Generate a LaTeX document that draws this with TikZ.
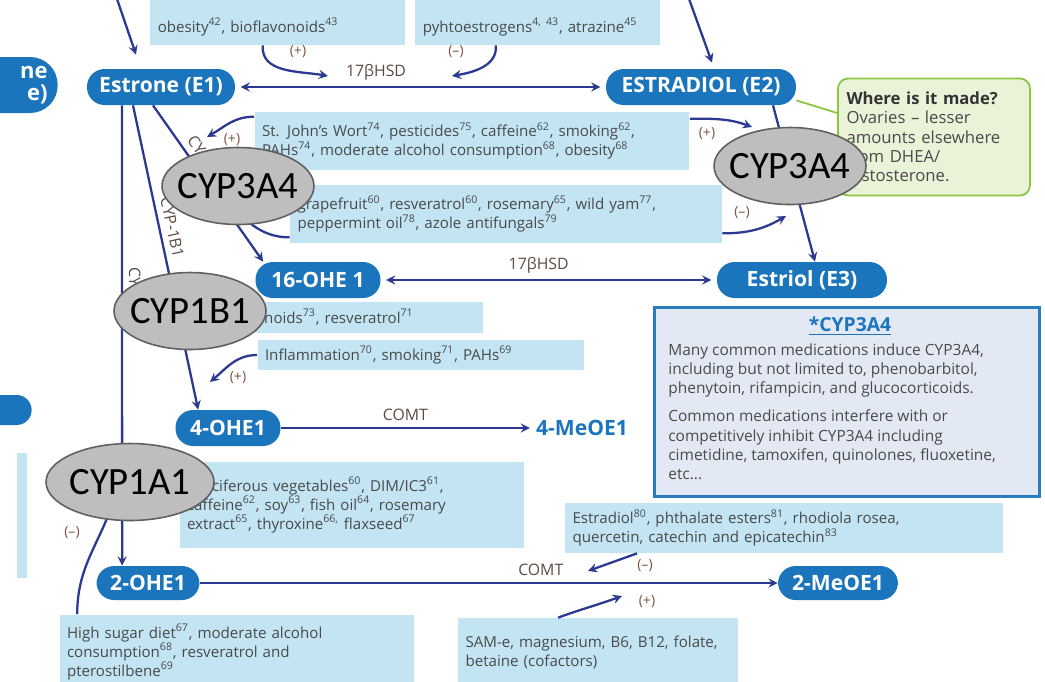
\documentclass[tikz,border=0pt]{standalone}
\usepackage{fontspec}
\setmainfont{Open Sans}
\newfontfamily\cypfont{Carlito}
\usetikzlibrary{shapes.geometric}
\definecolor{estblue}{HTML}{1B75BC}
\definecolor{flownavy}{HTML}{2B3990}
\definecolor{boxblue}{HTML}{C2E4F3}
\definecolor{txtgray}{HTML}{4A4A4A}
\definecolor{signbrown}{HTML}{7B5340}
\definecolor{enzgray}{HTML}{5B4A42}
\definecolor{cypgray}{HTML}{BEBEBE}
\definecolor{cypedge}{HTML}{5F5F5F}
\definecolor{wherefill}{HTML}{E9F3D8}
\definecolor{whereedge}{HTML}{8CC63F}
\definecolor{notefill}{HTML}{E3E9F4}
\definecolor{noteedge}{HTML}{2B7BBF}
\newcommand{\rf}[1]{\textsuperscript{#1}}
\tikzset{
  pill/.style={fill=estblue, text=white, rounded corners=0.35cm, minimum height=0.72cm, inner sep=0pt, font=\fontsize{12}{14}\selectfont\bfseries},
  info/.style={fill=boxblue, text=txtgray, align=left, inner xsep=0.15cm, inner ysep=0pt, font=\fontsize{8.6}{10.8}\selectfont},
  flow/.style={draw=flownavy, line width=1.3pt},
  sign/.style={text=signbrown, font=\fontsize{8}{9}\selectfont},
  enz/.style={text=enzgray, font=\fontsize{9}{10}\selectfont},
  cyp/.style={ellipse, draw=cypedge, fill=cypgray, line width=0.9pt, inner xsep=-0.4cm, inner ysep=0pt, minimum width=3.04cm, minimum height=1.54cm, font=\cypfont\fontsize{22}{26}\selectfont}
}
\begin{document}
\begin{tikzpicture}[x=0.02cm, y=-0.02cm]
\useasboundingbox (0,0) rectangle (1045,681);
\clip (0,0) rectangle (1045,681);

\node[info, text width=4.8cm, text height=1cm, text depth=0.16cm, inner ysep=0.1cm, anchor=base west] (obes) at (150,32) {obesity\rf{42}, bioflavonoids\rf{43}};
\node[info, text width=4.6cm, text height=1cm, text depth=0.16cm, inner ysep=0.1cm, anchor=base west] (phyto) at (415,32) {pyhtoestrogens\rf{4, 43}, atrazine\rf{45}};

\node[pill, anchor=east, text width=2.5cm, align=right, minimum height=1.12cm, rounded corners=0.55cm, inner xsep=0.2cm, font=\fontsize{12.5}{12.5}\selectfont\bfseries] (andro) at (58,85) {ne\\e)};
\node[pill, anchor=east, minimum width=2cm, minimum height=0.6cm, rounded corners=0.3cm] (leftpill) at (32,410) {};
\node[fill=boxblue, minimum width=0.2cm, minimum height=2.5cm, inner sep=0pt] (leftstrip) at (22,515) {};

\node[pill, minimum width=2.96cm] (e1) at (161,87) {Estrone (E1)};
\node[pill, minimum width=3.8cm] (e2) at (701,87) {ESTRADIOL (E2)};
\node[pill, minimum width=2.5cm] (ohe16) at (318,280) {16-OHE 1};
\node[pill, minimum width=3.4cm] (e3) at (802,280) {Estriol (E3)};
\node[pill, minimum width=2.1cm] (oh4) at (228,428) {4-OHE1};
\node[pill, minimum width=2.06cm, minimum height=0.68cm] (oh2) at (148,583) {2-OHE1};
\node[pill, minimum width=2.4cm, minimum height=0.68cm] (meo2) at (838,583) {2-MeOE1};
\node[text=estblue, font=\fontsize{12}{14}\selectfont\bfseries] (meo4) at (582,428) {4-MeOE1};

\node[info, text width=8.4cm, minimum height=1.16cm] (smk) at (472,141) {St. John’s Wort\rf{74}, pesticides\rf{75}, caffeine\rf{62}, smoking\rf{62},\\ PAHs\rf{74}, moderate alcohol consumption\rf{68}, obesity\rf{68}};
\node[info, text width=8.34cm, minimum height=1.16cm] (grape) at (506,214) {grapefruit\rf{60}, resveratrol\rf{60}, rosemary\rf{65}, wild yam\rf{77},\\ peppermint oil\rf{78}, azole antifungals\rf{79}};
\node[info, text width=4.96cm, minimum height=0.62cm] (flav) at (351.5,317) {Flavonoids\rf{73}, resveratrol\rf{71}};
\node[info, text width=6.24cm, minimum height=0.6cm] (infl) at (421,355) {Inflammation\rf{70}, smoking\rf{71}, PAHs\rf{69}};
\node[info, text width=6.6cm, minimum height=1.72cm] (cruc) at (352,505) {Cruciferous vegetables\rf{60}, DIM/IC3\rf{61},\\ caffeine\rf{62}, soy\rf{63}, fish oil\rf{64}, rosemary\\ extract\rf{65}, thyroxine\rf{66,} flaxseed\rf{67}};
\node[info, text width=6.8cm, minimum height=1.5cm] (sugar) at (237,652) {High sugar diet\rf{67}, moderate alcohol\\ consumption\rf{68}, resveratrol and\\ pterostilbene\rf{69}};
\node[info, text width=8.46cm, minimum height=1.0cm] (inhib) at (784,528) {Estradiol\rf{80}, phthalate esters\rf{81}, rhodiola rosea,\\ quercetin, catechin and epicatechin\rf{83}};
\node[info, text width=5.3cm, minimum height=1.36cm] (sam) at (598,652) {SAM-e, magnesium, B6, B12, folate,\\ betaine (cofactors)};

\node[fill=notefill, draw=noteedge, line width=1.2pt, minimum width=7.7cm, minimum height=3.78cm] (note) at (847,402) {};
\node[text=estblue, font=\fontsize{11}{13}\selectfont\bfseries] (notehead) at (850,326) {\underline{*CYP3A4}};
\node[text=txtgray, align=left, anchor=north west, inner sep=0pt, font=\fontsize{8.8}{11}\selectfont] (notetxt) at (668,343) {Many common medications induce CYP3A4,\\ including but not limited to, phenobarbitol,\\ phenytoin, rifampicin, and glucocorticoids.\\[5pt] Common medications interfere with or\\ competitively inhibit CYP3A4 including\\ cimetidine, tamoxifen, quinolones, fluoxetine,\\ etc...};

\node[fill=wherefill, draw=whereedge, line width=1pt, rounded corners=0.2cm, minimum width=3.84cm, minimum height=2.34cm, text width=3.5cm, align=left, inner xsep=0.17cm, text=txtgray, font=\fontsize{9.5}{11}\selectfont] (where) at (934,137) {\textcolor{black!80}{\textbf{Where is it made?}}\\ Ovaries -- lesser\\ amounts elsewhere\\ from DHEA/\\ testosterone.};
\draw[whereedge, line width=1pt] (e2.-8) -- ([yshift=0.48cm]where.west);

\coordinate (topa) at (116,-4);
\draw[flow,-stealth] (topa) -- ([xshift=-0.5cm,yshift=0.28cm]e1.north);
\coordinate (topb) at (688,-4);
\draw[flow,-stealth] (topb) -- ([xshift=0.22cm,yshift=0.12cm]e2.north);
\draw[flow,stealth-stealth,shorten <=3pt,shorten >=3pt] (e1) -- (e2) node[enz, pos=.38, above] (hsdtop) {17βHSD};

\coordinate (hsdplus) at (328,76);
\draw[flow,-stealth] ([xshift=-0.3cm]obes.south) to[out=-95,in=170] (hsdplus);
\node[sign] (pa) at (298,52) {(+)};
\coordinate (hsdminus) at (452,76);
\draw[flow,-stealth] ([xshift=-0.84cm]phyto.south) to[out=-85,in=10] (hsdminus);
\node[sign] (pb) at (456,52) {(--)};

\draw[flow,-stealth] ([xshift=-0.16cm]e1.south) -- ([xshift=0.16cm]ohe16.north west) node[enz, pos=.4, sloped, above] (lbl3a4) {CYP3A4};
\draw[flow,-stealth] ([xshift=-0.56cm]e1.south) -- ([xshift=0.46cm]oh4.north west) node[enz, pos=.41, sloped, above] (lbl1b1) {CYP-1B1};
\draw[flow,-stealth] ([xshift=-0.78cm]e1.south) -- ([xshift=0.52cm]oh2.north west) node[enz, pos=.42, sloped, above] (lbl1a1) {CYP-1A1};
\draw[flow,-stealth] ([xshift=1.44cm]e2.south) -- ([xshift=0.26cm]e3.north);
\draw[flow,stealth-stealth,shorten <=3pt,shorten >=3pt] (ohe16) -- (e3) node[enz, pos=.47, above] (hsdmid) {17βHSD};

\coordinate (smkl) at (207,137);
\draw[flow,-stealth] ([yshift=-0.1cm]smk.north west) to[out=180,in=30] (smkl);
\node[sign] (psl) at (232,140) {(+)};
\coordinate (smkr) at (752,127);
\draw[flow,-stealth] ([yshift=-0.14cm]smk.north east) to[out=0,in=160] (smkr);
\node[sign] (psr) at (707,134) {(+)};
\coordinate (grpl) at (234,210);
\draw[flow,-stealth] ([yshift=0.12cm]grape.south west) to[out=180,in=-40] (grpl);
\coordinate (grpr) at (786,216);
\draw[flow,-stealth] ([yshift=0.2cm]grape.south east) to[out=0,in=-150] (grpr);
\node[sign] (mgr) at (742,213) {(--)};

\coordinate (infll) at (210,382);
\draw[flow,-stealth] (infl.west) to[out=180,in=40] (infll);
\node[sign] (pin) at (238,378) {(+)};
\draw[flow,-stealth] (oh4) -- (meo4) node[enz, midway, above] (comt4) {COMT};

\coordinate (sugin) at (112,505);
\draw[flow,-stealth] ([xshift=0.36cm]sugar.north west) to[out=90,in=-110] (sugin);
\node[sign] (msug) at (72,533) {(--)};
\draw[flow,-stealth] (oh2) -- (meo2) node[enz, pos=.59, above] (comt2) {COMT};

\coordinate (inhin) at (588,571);
\draw[flow,-stealth] ([xshift=-2.94cm]inhib.south) to[out=-160,in=20] (inhin);
\node[sign] (minh) at (645,566) {(--)};
\coordinate (samin) at (622,596);
\draw[flow,-stealth] ([xshift=-0.8cm]sam.north) to[out=20,in=-160] (samin);
\node[sign] (psam) at (647,602) {(+)};

\node[cyp] (cypl) at (238,186) {CYP3A4};
\node[cyp] (cypr) at (790,166) {CYP3A4};
\node[cyp] (cypb) at (190,311) {CYP1B1};
\node[cyp, minimum width=3.36cm] (cypa) at (130,482) {CYP1A1};
\end{tikzpicture}
\end{document}
